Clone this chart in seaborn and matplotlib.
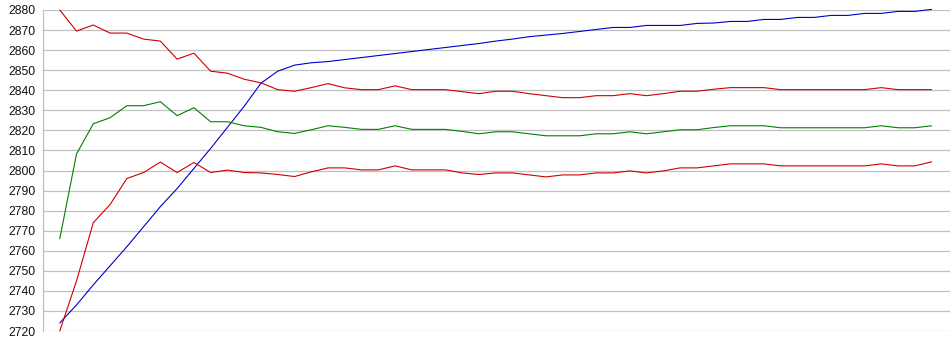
import numpy as np
import pandas as pd
import seaborn as sns
import matplotlib.pyplot as plt

# --- data (53 points each) ---
upper_red = [2880, 2869.5, 2872.5, 2868.5, 2868.5, 2865.5, 2864.5, 2855.5, 2858.5, 2849.5,
             2848.5, 2845.5, 2843.7, 2840.3, 2839.5, 2841.3, 2843.3, 2841.2, 2840.3, 2840.3,
             2842.2, 2840.3, 2840.3, 2840.3, 2839.3, 2838.3, 2839.5, 2839.5, 2838.3, 2837.3,
             2836.3, 2836.3, 2837.3, 2837.3, 2838.3, 2837.3, 2838.3, 2839.5, 2839.5, 2840.5,
             2841.3, 2841.3, 2841.3, 2840.3, 2840.3, 2840.3, 2840.3, 2840.3, 2840.3, 2841.3,
             2840.3, 2840.3, 2840.3]

green = [2766, 2808.3, 2823.3, 2826.3, 2832.3, 2832.3, 2834.3, 2827.3, 2831.3, 2824.3,
         2824.3, 2822.3, 2821.5, 2819.3, 2818.5, 2820.3, 2822.3, 2821.5, 2820.5, 2820.5,
         2822.3, 2820.5, 2820.5, 2820.5, 2819.5, 2818.3, 2819.3, 2819.3, 2818.3, 2817.3,
         2817.3, 2817.3, 2818.3, 2818.3, 2819.3, 2818.3, 2819.3, 2820.3, 2820.3, 2821.4,
         2822.3, 2822.3, 2822.3, 2821.3, 2821.3, 2821.3, 2821.3, 2821.3, 2821.3, 2822.3,
         2821.3, 2821.3, 2822.3]

lower_red = [2720, 2745, 2774, 2783, 2796, 2799, 2804.2, 2799, 2804, 2799,
             2800.2, 2799, 2798.8, 2798, 2797, 2799.3, 2801.3, 2801.3, 2800.3, 2800.3,
             2802.3, 2800.3, 2800.3, 2800.3, 2798.8, 2798, 2798.8, 2798.8, 2797.8, 2796.8,
             2797.8, 2797.8, 2798.8, 2798.8, 2799.8, 2798.8, 2799.8, 2801.3, 2801.3, 2802.3,
             2803.3, 2803.3, 2803.3, 2802.3, 2802.3, 2802.3, 2802.3, 2802.3, 2802.3, 2803.3,
             2802.3, 2802.3, 2804.3]

blue = [2724, 2733, 2743, 2752.5, 2762, 2772, 2782, 2791, 2801, 2811,
        2821.5, 2832, 2843.5, 2849.5, 2852.5, 2853.7, 2854.3, 2855.3, 2856.3, 2857.3,
        2858.3, 2859.3, 2860.3, 2861.3, 2862.3, 2863.3, 2864.5, 2865.5, 2866.7, 2867.5,
        2868.3, 2869.3, 2870.3, 2871.3, 2871.3, 2872.3, 2872.3, 2872.3, 2873.3, 2873.5,
        2874.3, 2874.3, 2875.3, 2875.3, 2876.3, 2876.3, 2877.3, 2877.3, 2878.3, 2878.3,
        2879.3, 2879.3, 2880.3]

y_ticks = list(range(2720, 2881, 10))

# --- style ---
sns.set_style("white")
plt.rcParams['font.family'] = ['Liberation Sans', 'DejaVu Sans']

fig = plt.figure(figsize=(9.5, 3.55), dpi=100)
ax = fig.add_axes([43 / 950, 1 - 331 / 355, 1 - 43 / 950, 321 / 355])

x = np.arange(len(blue))
series = [(blue, "#0000CC"), (upper_red, "#CC0000"), (green, "#008000"), (lower_red, "#CC0000")]
for vals, col in series:
    sns.lineplot(x=x, y=vals, color=col, linewidth=0.8, ax=ax, clip_on=False)

ax.set_ylim(2720, 2880)
ax.set_xlim(-1.0, 53.1)
ax.set_yticks(y_ticks)
ax.set_xticks([])
ax.grid(axis='y', color='#C0C0C0', linewidth=0.9)
ax.set_axisbelow(True)

for side in ['top', 'right', 'bottom']:
    ax.spines[side].set_visible(False)
ax.spines['left'].set_color('#C0C0C0')
ax.spines['left'].set_linewidth(0.9)

ax.tick_params(axis='y', length=0, pad=5, labelsize=8.8, labelcolor='#111111')

fig.savefig("out.png", dpi=100)
